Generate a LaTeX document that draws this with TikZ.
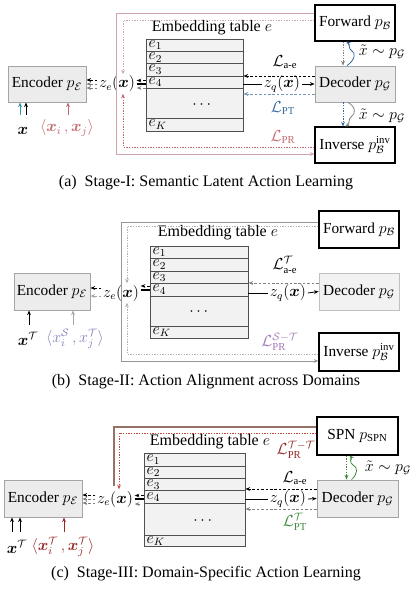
\documentclass[tikz,border=0pt]{standalone}
\usepackage{amsmath,amssymb}
\usepackage{fontspec}
\setmainfont{Liberation Serif}
\usetikzlibrary{calc,arrows.meta}
\definecolor{boxfill}{RGB}{236,236,236}
\definecolor{boxline}{RGB}{165,165,165}
\definecolor{rowfill}{RGB}{242,242,242}
\definecolor{rowline}{RGB}{80,80,80}
\definecolor{prpink}{RGB}{195,105,110}
\definecolor{frameA}{RGB}{205,165,170}
\definecolor{ptblue}{RGB}{55,105,160}
\definecolor{tealc}{RGB}{50,150,160}
\definecolor{frameB}{RGB}{150,150,150}
\definecolor{dshB}{RGB}{175,175,175}
\definecolor{prpurple}{RGB}{160,120,180}
\definecolor{lav}{RGB}{130,130,190}
\definecolor{frameC}{RGB}{150,115,105}
\definecolor{redD}{RGB}{200,70,60}
\definecolor{darkred}{RGB}{150,40,40}
\definecolor{grn}{RGB}{60,140,60}
\tikzset{
  sz/.style 2 args={minimum width=#1*0.75pt, minimum height=#2*0.75pt},
  gbox/.style={draw=boxline, fill=boxfill, inner sep=0pt, font=\fontsize{11.5}{13}\selectfont},
  wbox/.style={draw=black, fill=white, inner sep=0pt, line width=0.8pt, font=\fontsize{11.5}{13}\selectfont},
  rowbox/.style={draw=rowline, fill=rowfill, inner sep=0pt},
  rowlab/.style={anchor=west, inner sep=2pt},
  arr/.style={-{Stealth[length=3.5pt,width=2.8pt]}},
  dsh/.style={dash pattern=on 2pt off 1.3pt},
  dtt/.style={dash pattern=on 1pt off 1pt},
  lbl/.style={inner sep=1pt}}
\begin{document}
\begin{tikzpicture}[x=0.75pt,y=-0.75pt,
  font=\fontsize{12}{14}\selectfont, line width=0.6pt]
\useasboundingbox (0,0) rectangle (412,591);

% ================= Panel (a) =================
\node[gbox, sz={78}{36}] (encA) at (47,84) {Encoder $p_{\mathcal{E}}$};
\node[lbl] (zeA) at (117,84) {$z_e(\boldsymbol{x})$};
\foreach \n/\t/\b/\l in {1/39/51.5/$e_1$, 2/51.5/63.5/$e_2$, 3/63.5/76/$e_3$, 4/76/88/$e_4$, 5/88/118/{}, 6/118/131.5/$e_K$}{
  \node[rowbox, minimum width=97*0.75pt, minimum height={(\b-\t)*0.75pt}] (tA\n) at (194.5,{(\t+\b)/2}) {};
  \node[rowlab] (tlA\n) at (tA\n.west) {\l};
}
\node (ttlA) at (212,28) {Embedding table $e$};
\node (dotsA) at (203,105) {$\cdots$};
\node[gbox, sz={80}{36}] (decA) at (355,84) {Decoder $p_{\mathcal{G}}$};
\node[wbox, sz={80}{36}] (fwdA) at (355,23) {Forward $p_{\mathcal{B}}$};
\node[wbox, sz={80}{36}] (invA) at (355,145) {Inverse $p_{\mathcal{B}}^{\mathrm{inv}}$};
\coordinate (fA1) at (116,13); \coordinate (fA2) at (116,154);
\draw[frameA, arr] (fwdA.west |- fA1) -- (fA1) -- (fA2) -- (invA.west |- fA2);
\coordinate (dA1) at (123,20); \coordinate (dA2) at (123,147);
\draw[frameA, dtt, arr] (fwdA.west |- dA1) -- (dA1) -- (zeA.north -| dA1);
\draw[prpink, dtt, arr] (invA.west |- dA2) -- (dA2) -- (zeA.south -| dA2);
\draw[dsh, arr] (zeA.west |- 0,80) -- (encA.east |- 0,80);
\draw[dsh, arr, gray] (zeA.west |- 0,84) -- (encA.east |- 0,84);
\draw[dsh, arr, gray] (zeA.west |- 0,88) -- (encA.east |- 0,88);
\draw[dsh, arr] (tA4.west |- 0,80.5) -- (zeA.east |- 0,80.5);
\draw[line width=0.8pt] (zeA.east |- 0,84) -- (tA4.west |- 0,84);
\draw[dsh, arr, gray] (tA4.west |- 0,88) -- (zeA.east |- 0,88);
\draw[dsh, arr] (decA.west |- 0,76) -- (tA3.east |- 0,76);
\node[lbl] (zqA) at (282,84) {$z_q(\boldsymbol{x})$};
\draw (tA4.east |- zqA) -- (zqA.west);
\draw[arr] (zqA.east) -- (decA.west);
\draw[dsh, arr, ptblue!70] (decA.west |- 0,94) -- (tA5.east |- 0,94);
\node (LaeA) at (285,62) {$\mathcal{L}_{\text{a-e}}$};
\node[text=ptblue] (LptA) at (283,108) {$\mathcal{L}_{\text{PT}}$};
\node[text=prpink] (LprA) at (283,137) {$\mathcal{L}_{\text{PR}}$};
\draw[dtt, arr, gray] ($(fwdA.south)+(-12,0)$) -- ($(decA.north)+(-12,0)$);
\draw[ptblue, arr] ($(decA.north)+(-8,0)$) .. controls (355,60) and (356,53) .. (352,51) .. controls (348,49) and (350,44) .. ($(fwdA.south)+(-9,0)$);
\node (xtA1) at (382,52) {$\tilde{x}\sim p_{\mathcal{G}}$};
\draw[dtt, arr, ptblue] ($(decA.south)+(-12,0)$) -- ($(invA.north)+(-12,0)$);
\draw[gray, arr] ($(decA.south)+(-7,0)$) .. controls (356,107) and (356,114) .. (351,117) .. controls (348,119) and (350,124) .. ($(invA.north)+(-10,0)$);
\node (xtA2) at (382,116) {$\tilde{x}\sim p_{\mathcal{G}}$};
\coordinate (iA1) at (20,115); \coordinate (iA2) at (26,115); \coordinate (iA3) at (68,115);
\draw[arr, tealc] (iA1) -- (encA.south -| iA1);
\draw[arr] (iA2) -- (encA.south -| iA2);
\draw[arr, prpink] (iA3) -- (encA.south -| iA3);
\node (xA) at (23,131) {$\boldsymbol{x}$};
\node[text=prpink] (pairA) at (67,128) {$\langle \boldsymbol{x}_i\,, \boldsymbol{x}_j\rangle$};
\node (capA) at (206,183) {(a)\enspace Stage-I: Semantic Latent Action Learning};

% ================= Panel (b) =================
\node[gbox, sz={76}{37}] (encB) at (52,291.5) {Encoder $p_{\mathcal{E}}$};
\node[lbl] (zeB) at (121,293) {$z_e(\boldsymbol{x})$};
\foreach \n/\t/\b/\l in {1/246/258.3/$e_1$, 2/258.3/271/$e_2$, 3/271/283.3/$e_3$, 4/283.3/296/$e_4$, 5/296/326/{}, 6/326/338.3/$e_K$}{
  \node[rowbox, minimum width=98*0.75pt, minimum height={(\b-\t)*0.75pt}] (tB\n) at (199,{(\t+\b)/2}) {};
  \node[rowlab] (tlB\n) at (tB\n.west) {\l};
}
\node (ttlB) at (218,233) {Embedding table $e$};
\node (dotsB) at (200,312) {$\cdots$};
\node[gbox, draw=boxline!70, fill=boxfill!70, sz={80}{37}] (decB) at (359,291.5) {Decoder $p_{\mathcal{G}}$};
\node[wbox, sz={80}{37}] (fwdB) at (359,229.5) {Forward $p_{\mathcal{B}}$};
\node[wbox, sz={80}{38}] (invB) at (359,352) {Inverse $p_{\mathcal{B}}^{\mathrm{inv}}$};
\coordinate (fB1) at (121,222); \coordinate (fB2) at (121,361);
\draw[frameB, arr] (fwdB.west |- fB1) -- (fB1) -- (fB2) -- (invB.west |- fB2);
\coordinate (dB1) at (127,226); \coordinate (dB2) at (127,354);
\draw[dshB, dtt, arr] (fwdB.west |- dB1) -- (dB1) -- (zeB.north -| dB1);
\draw[dshB, dtt, arr] (invB.west |- dB2) -- (dB2) -- (zeB.south -| dB2);
\draw[dsh, arr] (zeB.west |- 0,288) -- (encB.east |- 0,288);
\draw[dsh, arr, gray!70] (zeB.west |- 0,296) -- (encB.east |- 0,296);
\draw[dsh, arr] (tB4.west |- 0,286) -- (zeB.east |- 0,286);
\draw[line width=0.8pt] (zeB.east |- 0,290) -- (tB4.west |- 0,290);
\draw[dsh, arr, gray] (decB.west |- 0,283) -- (tB3.east |- 0,283);
\node[lbl] (zqB) at (288,293) {$z_q(\boldsymbol{x})$};
\draw (tB4.east |- zqB) -- (zqB.west);
\draw[arr] (zqB.east) -- (decB.west);
\node (LaeB) at (285,265) {$\mathcal{L}^{\mathcal{T}}_{\text{a-e}}$};
\node[text=prpurple] (LprB) at (280,342) {$\mathcal{L}^{\mathcal{S}-\mathcal{T}}_{\text{PR}}$};
\coordinate (iB1) at (29,325); \coordinate (iB2) at (73,325);
\draw[arr] (iB1) -- (encB.south -| iB1);
\draw[arr, gray!70] (iB2) -- (encB.south -| iB2);
\node (xB) at (28,339) {$\boldsymbol{x}^{\mathcal{T}}$};
\node[text=lav] (pairB) at (75,339) {$\langle x^{\mathcal{S}}_i\,, x^{\mathcal{T}}_j\rangle$};
\node (capB) at (206,382) {(b)\enspace Stage-II: Action Alignment across Domains};

% ================= Panel (c) =================
\node[gbox, sz={78}{37}] (encC) at (43,498.5) {Encoder $p_{\mathcal{E}}$};
\node[lbl] (zeC) at (115,499) {$z_e(\boldsymbol{x})$};
\foreach \n/\t/\b/\l in {1/453.3/466/$e_1$, 2/466/478.3/$e_2$, 3/478.3/490.7/$e_3$, 4/490.7/503.3/$e_4$, 5/503.3/535/{}, 6/535/546.7/$e_K$}{
  \node[rowbox, minimum width=101*0.75pt, minimum height={(\b-\t)*0.75pt}] (tC\n) at (194.5,{(\t+\b)/2}) {};
  \node[rowlab] (tlC\n) at (tC\n.west) {\l};
}
\node (ttlC) at (210,442) {Embedding table $e$};
\node (dotsC) at (204,521) {$\cdots$};
\node[gbox, sz={81}{37}] (decC) at (357.5,498.5) {Decoder $p_{\mathcal{G}}$};
\node[wbox, sz={81}{38}] (spnC) at (357.5,436) {SPN $p_{\text{SPN}}$};
\coordinate (fC1) at (114,427); \coordinate (fC2) at (114,486);
\draw[frameC, line width=0.9pt] (spnC.west |- fC1) -- (fC1) -- (fC2);
\coordinate (dC1) at (119,433);
\draw[redD, dtt, arr] (spnC.west |- dC1) -- (dC1) -- (zeC.north -| dC1);
\draw[dsh, arr] (zeC.west |- 0,495) -- (encC.east |- 0,495);
\draw[dsh, arr, gray] (zeC.west |- 0,499) -- (encC.east |- 0,499);
\draw[dsh, arr, gray] (zeC.west |- 0,503) -- (encC.east |- 0,503);
\draw[dsh, arr] (tC4.west |- 0,495.5) -- (zeC.east |- 0,495.5);
\draw[line width=0.8pt] (zeC.east |- 0,499) -- (tC4.west |- 0,499);
\draw[dsh, arr, gray] ($(zeC.east |- 0,504)+(5,0)$) -- (zeC.east |- 0,504);
\draw[dsh, arr] (decC.west |- 0,489) -- (tC3.east |- 0,489);
\node[lbl] (zqC) at (288,499) {$z_q(\boldsymbol{x})$};
\draw (tC4.east |- zqC) -- (zqC.west);
\draw[arr] (zqC.east) -- (decC.west);
\draw[dsh, arr, gray] (decC.west |- 0,509) -- (tC5.east |- 0,509);
\node[text=darkred, inner sep=0pt] (LprC) at (296,450) {$\mathcal{L}^{\mathcal{T}-\mathcal{T}}_{\text{PR}}$};
\node (LaeC) at (295,478) {$\mathcal{L}_{\text{a-e}}$};
\node[text=grn] (LptC) at (295,522) {$\mathcal{L}^{\mathcal{T}}_{\text{PT}}$};
\draw[dtt, arr, grn] ($(spnC.south)+(-11,0)$) -- ($(decC.north)+(-11,0)$);
\draw[grn, arr] ($(decC.north)+(-6,0)$) .. controls (358,474) and (358,467) .. (353,465) .. controls (349,463) and (351,457) .. ($(spnC.south)+(-8,0)$);
\node (xtC) at (388,468) {$\tilde{x}\sim p_{\mathcal{G}}$};
\coordinate (iC1) at (12,532); \coordinate (iC2) at (20,532); \coordinate (iC3) at (64,532);
\draw[arr] (iC1) -- (encC.south -| iC1);
\draw[arr] (iC2) -- (encC.south -| iC2);
\draw[arr, darkred] (iC3) -- (encC.south -| iC3);
\node (xC) at (17,547) {$\boldsymbol{x}^{\mathcal{T}}$};
\node[text=darkred] (pairC) at (63,547) {$\langle \boldsymbol{x}^{\mathcal{T}}_i\,, \boldsymbol{x}^{\mathcal{T}}_j\rangle$};
\node (capC) at (206,574) {(c)\enspace Stage-III: Domain-Specific Action Learning};
\end{tikzpicture}
\end{document}
